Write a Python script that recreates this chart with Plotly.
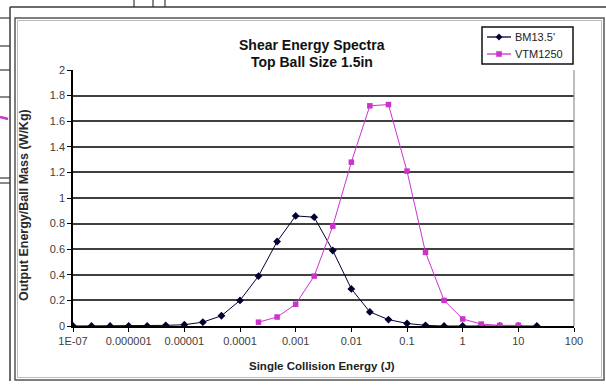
import plotly.graph_objects as go

# ---------------- data ----------------
energy_bm = [1e-07, 2.15e-07, 4.64e-07, 1e-06, 2.15e-06, 4.64e-06, 1e-05, 2.15e-05,
             4.64e-05, 1e-04, 2.15e-04, 4.64e-04, 1e-03, 2.15e-03, 4.64e-03, 0.01,
             0.0215, 0.0464, 0.1, 0.215, 0.464, 1.0, 2.15, 4.64, 10.0, 21.5]
bm_values = [0, 0, 0, 0, 0, 0.005, 0.01, 0.03, 0.08, 0.2, 0.39, 0.66, 0.86, 0.85,
             0.59, 0.29, 0.11, 0.05, 0.02, 0.005, 0, 0, 0, 0, 0, 0]

energy_vtm = [2.15e-04, 4.64e-04, 1e-03, 2.15e-03, 4.64e-03, 0.01, 0.0215, 0.0464,
              0.1, 0.215, 0.464, 1.0, 2.15, 4.64, 10.0]
vtm_values = [0.03, 0.07, 0.17, 0.39, 0.78, 1.28, 1.72, 1.73, 1.21, 0.575, 0.2,
              0.055, 0.015, 0.005, 0.005]

series_names = ["BM13.5'", "VTM1250"]
series_colors = ["#000033", "#CC33CC"]
x_tick_vals = [1e-07, 1e-06, 1e-05, 1e-04, 1e-03, 0.01, 0.1, 1, 10, 100]
x_tick_text = ["1E-07", "0.000001", "0.00001", "0.0001", "0.001", "0.01", "0.1", "1", "10", "100"]

# ---------------- layout geometry (pixels) ----------------
W, H = 606, 385
L, R, T, B = 73, 574, 70, 326


def px(x):
    return (x - L) / (R - L)


def py(y):
    return (B - y) / (B - T)


FONT = "Liberation Sans, Arial, sans-serif"

fig = go.Figure()
fig.add_trace(go.Scatter(
    x=energy_bm, y=bm_values, name=series_names[0], mode="lines+markers",
    line=dict(color=series_colors[0], width=1),
    marker=dict(symbol="diamond", size=6, color=series_colors[0]),
))
fig.add_trace(go.Scatter(
    x=energy_vtm, y=vtm_values, name=series_names[1], mode="lines+markers",
    line=dict(color=series_colors[1], width=1),
    marker=dict(symbol="square", size=5.5, color=series_colors[1]),
))

shapes = []
frame_col = "#3a3a3a"
# outer spreadsheet borders
shapes.append(dict(type="line", xref="paper", yref="paper", x0=px(10), x1=px(606), y0=py(7), y1=py(7),
                   line=dict(color=frame_col, width=1.5)))
shapes.append(dict(type="line", xref="paper", yref="paper", x0=px(10), x1=px(10), y0=py(7), y1=py(381),
                   line=dict(color=frame_col, width=1.5)))
for xv in [134, 153, 165]:
    shapes.append(dict(type="line", xref="paper", yref="paper", x0=px(xv), x1=px(xv), y0=py(0), y1=py(7),
                       line=dict(color=frame_col, width=1.2)))
for yv in [18, 46, 70, 97, 178, 183]:
    shapes.append(dict(type="line", xref="paper", yref="paper", x0=px(0), x1=px(10), y0=py(yv), y1=py(yv),
                       line=dict(color=frame_col, width=1.2)))
# small magenta glyph at far left
shapes.append(dict(type="line", xref="paper", yref="paper", x0=px(0), x1=px(8), y0=py(117), y1=py(119),
                   line=dict(color="#CC33CC", width=2.5)))
# chart area border (double grey)
shapes.append(dict(type="rect", xref="paper", yref="paper", x0=px(15), x1=px(604), y0=py(18), y1=py(380),
                   line=dict(color="#555555", width=1.5)))
shapes.append(dict(type="rect", xref="paper", yref="paper", x0=px(17.5), x1=px(601.5), y0=py(20.5), y1=py(377.5),
                   line=dict(color="#bbbbbb", width=1)))
# plot area right border
shapes.append(dict(type="line", xref="paper", yref="paper", x0=1, x1=1, y0=0, y1=1,
                   line=dict(color="#909090", width=1.2)))

# ---- legend (drawn as a box with keys) ----
shapes.append(dict(type="rect", xref="paper", yref="paper", x0=px(482), x1=px(573), y0=py(27), y1=py(64),
                   line=dict(color="#111111", width=1.5), fillcolor="white", layer="above"))
legend_rows = [37, 54]
for i, ly in enumerate(legend_rows):
    shapes.append(dict(type="line", xref="paper", yref="paper", x0=px(487), x1=px(511), y0=py(ly), y1=py(ly),
                       line=dict(color=series_colors[i], width=1.3), layer="above"))
# diamond key
cx, cy = 499, legend_rows[0]
shapes.append(dict(type="path", xref="paper", yref="paper", layer="above",
                   path=f"M {px(cx)} {py(cy - 3.2)} L {px(cx + 3.2)} {py(cy)} L {px(cx)} {py(cy + 3.2)} "
                        f"L {px(cx - 3.2)} {py(cy)} Z",
                   fillcolor=series_colors[0], line=dict(color=series_colors[0], width=0.5)))
# square key
cx, cy = 499, legend_rows[1]
shapes.append(dict(type="rect", xref="paper", yref="paper", layer="above",
                   x0=px(cx - 2.6), x1=px(cx + 2.6), y0=py(cy - 2.6), y1=py(cy + 2.6),
                   fillcolor=series_colors[1], line=dict(color=series_colors[1], width=0.5)))

annotations = [
    dict(text="<b>Shear Energy Spectra</b>", x=px(312), y=py(45), xref="paper", yref="paper",
         showarrow=False, xanchor="center", yanchor="middle", font=dict(family=FONT, size=14, color="#111111")),
    dict(text="<b>Top Ball Size 1.5in</b>", x=px(312), y=py(62), xref="paper", yref="paper",
         showarrow=False, xanchor="center", yanchor="middle", font=dict(family=FONT, size=14, color="#111111")),
    dict(text="<b>Single Collision Energy (J)</b>", x=px(322), y=py(366), xref="paper", yref="paper",
         showarrow=False, xanchor="center", yanchor="middle", font=dict(family=FONT, size=11.5, color="#222222")),
    dict(text="<b>Output Energy/Ball Mass (W/Kg)</b>", x=px(24), y=py(205), xref="paper", yref="paper",
         showarrow=False, xanchor="center", yanchor="middle", textangle=-90,
         font=dict(family=FONT, size=12.5, color="#2a2a2a")),
]
for i, ly in enumerate(legend_rows):
    annotations.append(dict(text=series_names[i], x=px(513), y=py(ly), xref="paper", yref="paper",
                            showarrow=False, xanchor="left", yanchor="middle",
                            font=dict(family=FONT, size=11, color="#222222")))

fig.update_layout(
    width=W, height=H, autosize=False,
    margin=dict(l=L, r=W - R, t=T, b=H - B, pad=0),
    paper_bgcolor="white", plot_bgcolor="white",
    font=dict(family=FONT, size=11, color="#404040"),
    showlegend=False,
    shapes=shapes, annotations=annotations,
)
fig.update_xaxes(type="log", range=[-7, 2], tickvals=x_tick_vals, ticktext=x_tick_text,
                 showgrid=False, showline=True, linecolor="#000000", linewidth=1.5,
                 ticks="outside", ticklen=4, tickcolor="#000000", tickwidth=1.2,
                 tickfont=dict(family=FONT, size=11, color="#404040"), zeroline=False)
fig.update_yaxes(range=[0, 2], dtick=0.2, tick0=0, showgrid=True, gridcolor="#3f3f3f", gridwidth=1.6,
                 showline=True, linecolor="#000000", linewidth=1.5,
                 ticks="outside", ticklen=4, tickcolor="#000000", tickwidth=1.2,
                 tickfont=dict(family=FONT, size=11, color="#404040"), zeroline=False)

fig.write_html("out.html")
